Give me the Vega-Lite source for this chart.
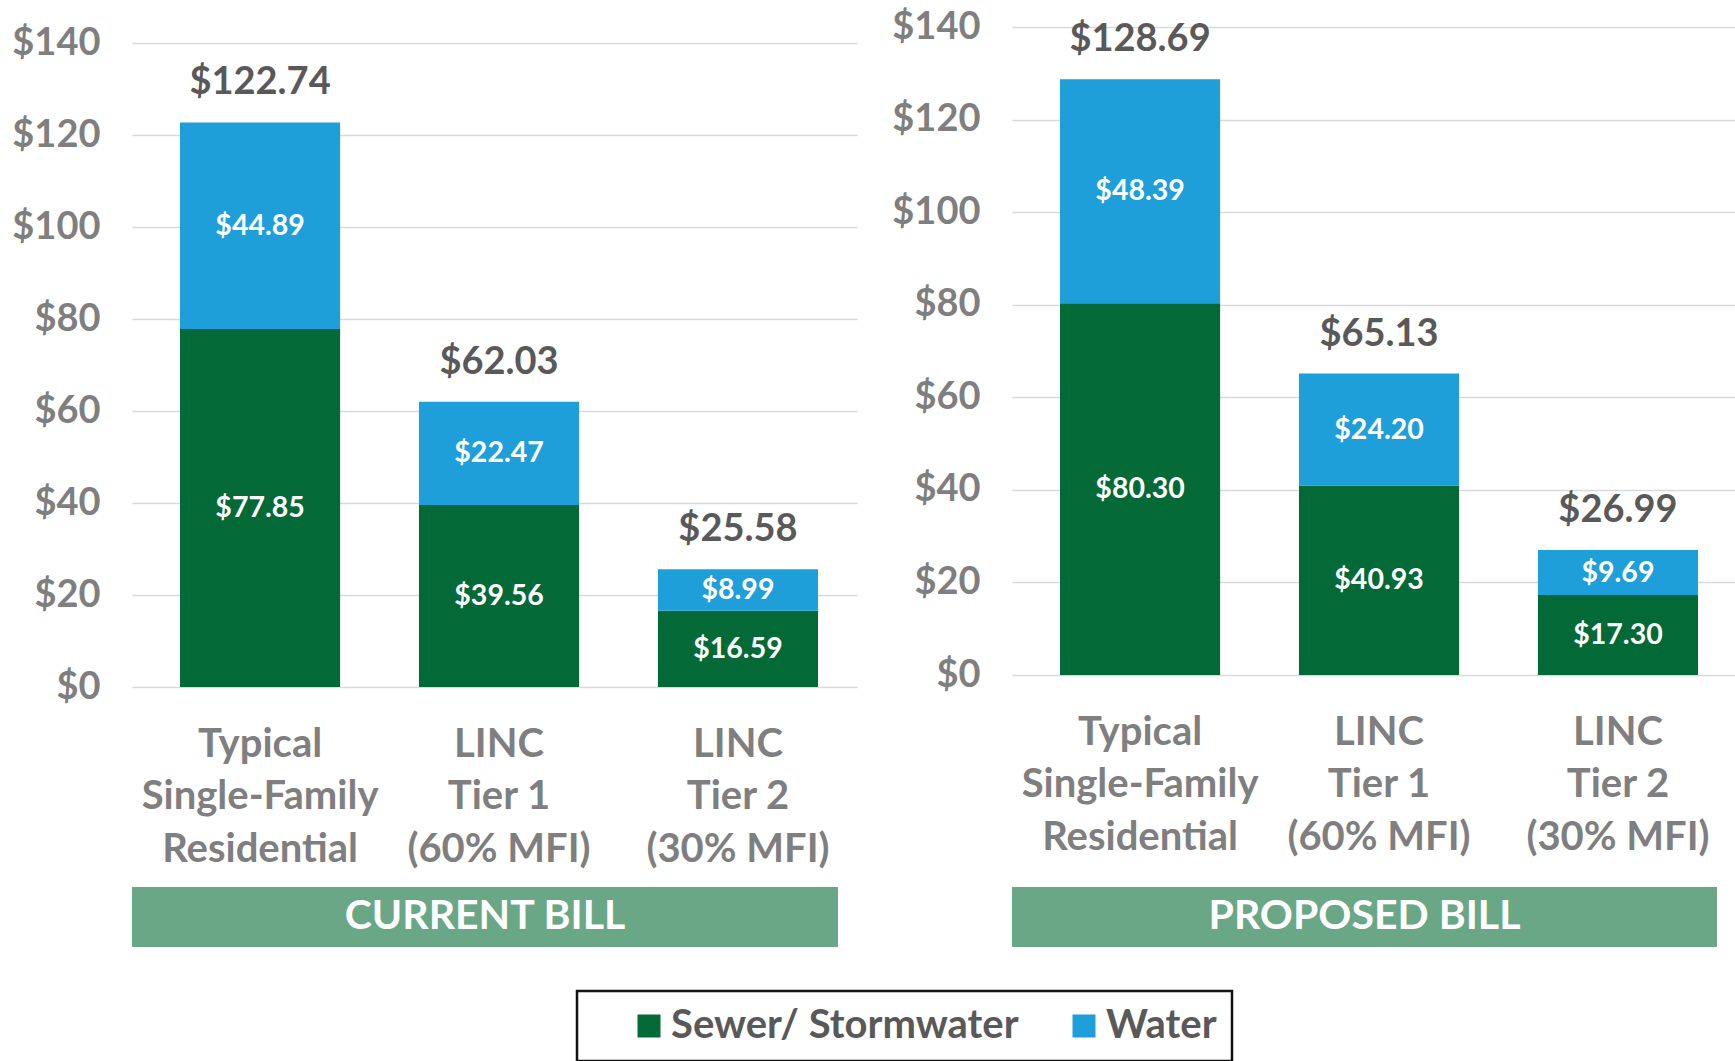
{
  "$schema": "https://vega.github.io/schema/vega-lite/v6.json",
  "padding": {"left": 11, "top": 8, "right": 0, "bottom": 0},
  "background": "white",
  "config": {
    "font": "Lato",
    "view": {"stroke": null},
    "axis": {"labelFont": "Lato", "labelFontWeight": "bold", "labelColor": "#7f7f7f"},
    "text": {"font": "Lato"},
    "legend": {"strokeWidth": 2.5}
  },
  "data": {
    "values": [
      {"bill": "Current", "category": "Typical Single-Family Residential", "component": "Sewer/ Stormwater", "value": 77.85},
      {"bill": "Current", "category": "Typical Single-Family Residential", "component": "Water", "value": 44.89},
      {"bill": "Current", "category": "LINC Tier 1 (60% MFI)", "component": "Sewer/ Stormwater", "value": 39.56},
      {"bill": "Current", "category": "LINC Tier 1 (60% MFI)", "component": "Water", "value": 22.47},
      {"bill": "Current", "category": "LINC Tier 2 (30% MFI)", "component": "Sewer/ Stormwater", "value": 16.59},
      {"bill": "Current", "category": "LINC Tier 2 (30% MFI)", "component": "Water", "value": 8.99},
      {"bill": "Proposed", "category": "Typical Single-Family Residential", "component": "Sewer/ Stormwater", "value": 80.30},
      {"bill": "Proposed", "category": "Typical Single-Family Residential", "component": "Water", "value": 48.39},
      {"bill": "Proposed", "category": "LINC Tier 1 (60% MFI)", "component": "Sewer/ Stormwater", "value": 40.93},
      {"bill": "Proposed", "category": "LINC Tier 1 (60% MFI)", "component": "Water", "value": 24.20},
      {"bill": "Proposed", "category": "LINC Tier 2 (30% MFI)", "component": "Sewer/ Stormwater", "value": 17.30},
      {"bill": "Proposed", "category": "LINC Tier 2 (30% MFI)", "component": "Water", "value": 9.69}
    ]
  },
  "bounds": "flush",
  "columns": 2,
  "spacing": {"row": 200, "column": 155},
  "concat": [
    {
      "width": 725,
      "height": 660,
      "transform": [{"filter": "datum.bill == 'Current'"}],
      "encoding": {
        "x": {
          "field": "category", "type": "nominal", "title": null,
          "scale": {"domain": ["Typical Single-Family Residential", "LINC Tier 1 (60% MFI)", "LINC Tier 2 (30% MFI)"], "paddingInner": 0.33, "paddingOuter": 0.182, "align": 0.552},
          "axis": {
            "labelExpr": "datum.value == 'Typical Single-Family Residential' ? ['Typical', 'Single-Family', 'Residential'] : datum.value == 'LINC Tier 1 (60% MFI)' ? ['LINC', 'Tier 1', '(60% MFI)'] : ['LINC', 'Tier 2', '(30% MFI)']",
            "labelFontSize": 40, "labelLineHeight": 52.5, "labelPadding": 37, "labelAngle": 0,
            "ticks": false, "domain": false, "labelLimit": 0, "labelOverlap": false, "title": null
          }
        },
        "y": {
          "field": "value", "type": "quantitative", "stack": "zero", "title": null,
          "scale": {"domain": [0, 143.5], "nice": false},
          "axis": {"values": [0, 20, 40, 60, 80, 100, 120, 140], "format": "$.0f", "labelFontSize": 38, "labelPadding": 32, "ticks": false, "domain": false, "grid": true, "gridColor": "#d9d9d9", "gridWidth": 1.5, "title": null}
        },
        "order": {"field": "component", "type": "nominal", "sort": "ascending"}
      },
      "layer": [
        {
          "mark": {"type": "bar"},
          "encoding": {
            "color": {
              "field": "component", "type": "nominal",
              "scale": {"domain": ["Sewer/ Stormwater", "Water"], "range": ["#026937", "#1e9fda"]},
              "legend": {"title": " ", "titleOrient": "left", "titleFontSize": 10, "titlePadding": 37, "orient": "none", "legendX": 445, "legendY": 964, "direction": "horizontal", "symbolType": "square", "symbolSize": 529, "symbolStrokeWidth": 0, "labelFontSize": 40, "labelColor": "#595959", "labelFontWeight": "bold", "labelFont": "Lato", "columnPadding": 45, "labelOffset": 2, "padding": 15, "strokeColor": "#111111", "fillColor": "white", "labelLimit": 0}
            }
          }
        },
        {
          "mark": {"type": "text", "color": "white", "fontSize": 28.5, "fontWeight": "bold"},
          "encoding": {
            "y": {"field": "value", "type": "quantitative", "stack": "zero", "bandPosition": 0.5, "title": null},
            "detail": {"field": "component"},
            "text": {"field": "value", "type": "quantitative", "format": "$.2f"}
          }
        },
        {
          "transform": [{"aggregate": [{"op": "sum", "field": "value", "as": "value"}], "groupby": ["category"]}],
          "mark": {"type": "text", "color": "#595959", "fontSize": 38, "fontWeight": "bold", "baseline": "middle", "dy": -39},
          "encoding": {
            "order": null,
            "text": {"field": "value", "type": "quantitative", "format": "$.2f"}
          }
        }
      ]
    },
    {
      "width": 725,
      "height": 648,
      "transform": [{"filter": "datum.bill == 'Proposed'"}],
      "encoding": {
        "x": {
          "field": "category", "type": "nominal", "title": null,
          "scale": {"domain": ["Typical Single-Family Residential", "LINC Tier 1 (60% MFI)", "LINC Tier 2 (30% MFI)"], "paddingInner": 0.33, "paddingOuter": 0.182, "align": 0.552},
          "axis": {
            "labelExpr": "datum.value == 'Typical Single-Family Residential' ? ['Typical', 'Single-Family', 'Residential'] : datum.value == 'LINC Tier 1 (60% MFI)' ? ['LINC', 'Tier 1', '(60% MFI)'] : ['LINC', 'Tier 2', '(30% MFI)']",
            "labelFontSize": 40, "labelLineHeight": 52.5, "labelPadding": 37, "labelAngle": 0,
            "ticks": false, "domain": false, "labelLimit": 0, "labelOverlap": false, "title": null
          }
        },
        "y": {
          "field": "value", "type": "quantitative", "stack": "zero", "title": null,
          "scale": {"domain": [0, 140], "nice": false},
          "axis": {"values": [0, 20, 40, 60, 80, 100, 120, 140], "format": "$.0f", "labelFontSize": 38, "labelPadding": 32, "ticks": false, "domain": false, "grid": true, "gridColor": "#d9d9d9", "gridWidth": 1.5, "title": null}
        },
        "order": {"field": "component", "type": "nominal", "sort": "ascending"}
      },
      "layer": [
        {
          "mark": {"type": "bar"},
          "encoding": {
            "color": {
              "field": "component", "type": "nominal",
              "scale": {"domain": ["Sewer/ Stormwater", "Water"], "range": ["#026937", "#1e9fda"]},
              "legend": {"title": " ", "titleOrient": "left", "titleFontSize": 10, "titlePadding": 37, "orient": "none", "legendX": 445, "legendY": 964, "direction": "horizontal", "symbolType": "square", "symbolSize": 529, "symbolStrokeWidth": 0, "labelFontSize": 40, "labelColor": "#595959", "labelFontWeight": "bold", "labelFont": "Lato", "columnPadding": 45, "labelOffset": 2, "padding": 15, "strokeColor": "#111111", "fillColor": "white", "labelLimit": 0}
            }
          }
        },
        {
          "mark": {"type": "text", "color": "white", "fontSize": 28.5, "fontWeight": "bold"},
          "encoding": {
            "y": {"field": "value", "type": "quantitative", "stack": "zero", "bandPosition": 0.5, "title": null},
            "detail": {"field": "component"},
            "text": {"field": "value", "type": "quantitative", "format": "$.2f"}
          }
        },
        {
          "transform": [{"aggregate": [{"op": "sum", "field": "value", "as": "value"}], "groupby": ["category"]}],
          "mark": {"type": "text", "color": "#595959", "fontSize": 38, "fontWeight": "bold", "baseline": "middle", "dy": -39},
          "encoding": {
            "order": null,
            "text": {"field": "value", "type": "quantitative", "format": "$.2f"}
          }
        }
      ]
    },
    {
      "width": 706,
      "height": 60,
      "data": {"values": [{"bill": "CURRENT BILL"}]},
      "view": {"fill": "#6aa786", "stroke": null},
      "mark": {"type": "text", "color": "white", "fontSize": 41, "fontWeight": "bold", "font": "Lato"},
      "encoding": {"text": {"field": "bill"}}
    },
    {
      "width": 705,
      "height": 60,
      "data": {"values": [{"bill": "PROPOSED BILL"}]},
      "view": {"fill": "#6aa786", "stroke": null},
      "mark": {"type": "text", "color": "white", "fontSize": 41, "fontWeight": "bold", "font": "Lato"},
      "encoding": {"text": {"field": "bill"}}
    }
  ]
}
